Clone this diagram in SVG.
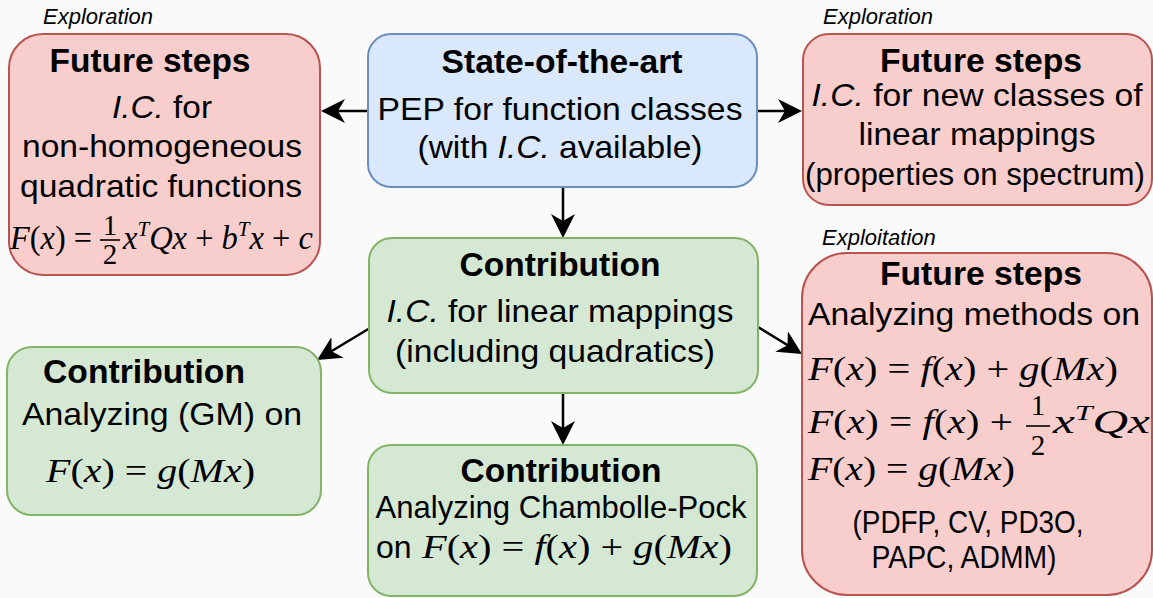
<svg xmlns="http://www.w3.org/2000/svg" width="1153" height="598" viewBox="0 0 1153 598">
  <defs>
    <style>
      .red { fill: #f8cecc; stroke: #b85450; stroke-width: 2; }
      .blue { fill: #dae8fc; stroke: #6c8ebf; stroke-width: 2; }
      .green { fill: #d5e8d4; stroke: #82b366; stroke-width: 2; }
      .t { font-family: "Liberation Sans", Arial, sans-serif; font-size: 32px; fill: #000; text-anchor: middle; }
      .b { font-weight: bold; font-size: 34px; }
      .i { font-style: italic; }
      .lbl { font-family: "Liberation Sans", Arial, sans-serif; font-size: 22px; font-style: italic; fill: #000; }
      .m { font-family: "Liberation Serif", "Times New Roman", serif; font-size: 34px; font-style: italic; fill: #000; }
      .u { font-style: normal; }
      .sup { font-size: 22px; }
      .fr { font-family: "Liberation Serif", "Times New Roman", serif; font-size: 29px; fill: #000; text-anchor: middle; }
      .bar { stroke: #000; stroke-width: 1.6; }
      .edge { fill: none; stroke: #000; stroke-width: 2.5; }
    </style>
    <marker id="arrow" markerUnits="userSpaceOnUse" markerWidth="26" markerHeight="26" refX="14" refY="12" orient="auto" viewBox="0 0 26 26">
      <path d="M0,0 L24,12 L0,24 L7,12 Z" fill="#000"/>
    </marker>
  </defs>

  <rect width="1153" height="598" fill="#fafafa"/>

  <!-- connectors -->
  <g id="connectors">
    <line class="edge" x1="368" y1="111" x2="331" y2="111" marker-end="url(#arrow)"/>
    <line class="edge" x1="757" y1="111" x2="792" y2="111" marker-end="url(#arrow)"/>
    <line class="edge" x1="563" y1="187" x2="563" y2="228" marker-end="url(#arrow)"/>
    <line class="edge" x1="370" y1="328" x2="325.6" y2="354.8" marker-end="url(#arrow)"/>
    <line class="edge" x1="758" y1="327" x2="793.5" y2="348.8" marker-end="url(#arrow)"/>
    <line class="edge" x1="563" y1="393" x2="563" y2="435" marker-end="url(#arrow)"/>
  </g>

  <!-- state of the art -->
  <g id="state-of-the-art">
    <rect class="blue" x="368" y="34" width="389" height="153" rx="23"/>
    <text class="t b" x="562" y="73" textLength="241" lengthAdjust="spacingAndGlyphs">State-of-the-art</text>
    <text class="t" x="560" y="120" textLength="365" lengthAdjust="spacingAndGlyphs">PEP for function classes</text>
    <text class="t" x="560" y="158" textLength="285" lengthAdjust="spacingAndGlyphs">(with <tspan class="i">I.C.</tspan> available)</text>
  </g>

  <!-- future steps: non-homogeneous quadratics -->
  <g id="future-quadratic">
    <text class="lbl" x="43" y="24">Exploration</text>
    <rect class="red" x="9" y="34" width="311" height="241" rx="34"/>
    <text class="t b" x="150" y="72" textLength="201" lengthAdjust="spacingAndGlyphs">Future steps</text>
    <text class="t" x="162" y="118" textLength="100" lengthAdjust="spacingAndGlyphs"><tspan class="i">I.C.</tspan> for</text>
    <text class="t" x="162" y="157" textLength="280" lengthAdjust="spacingAndGlyphs">non-homogeneous</text>
    <text class="t" x="161" y="197" textLength="282" lengthAdjust="spacingAndGlyphs">quadratic functions</text>
    <text class="m" x="10" y="249" textLength="82" lengthAdjust="spacingAndGlyphs">F<tspan class="u">(</tspan>x<tspan class="u">) =</tspan></text>
    <text class="fr" x="110" y="235">1</text>
    <line class="bar" x1="100" y1="240" x2="120" y2="240"/>
    <text class="fr" x="110" y="264">2</text>
    <text class="m" x="123" y="249" textLength="190" lengthAdjust="spacingAndGlyphs">x<tspan class="sup" dy="-13">T</tspan><tspan dy="13">Qx</tspan><tspan class="u"> + </tspan>b<tspan class="sup" dy="-13">T</tspan><tspan dy="13">x</tspan><tspan class="u"> + </tspan>c</text>
  </g>

  <!-- future steps: new classes of linear mappings -->
  <g id="future-linear">
    <text class="lbl" x="823" y="24">Exploration</text>
    <rect class="red" x="803" y="34" width="349" height="171" rx="26"/>
    <text class="t b" x="981" y="72" textLength="202" lengthAdjust="spacingAndGlyphs">Future steps</text>
    <text class="t" x="977" y="106" textLength="331" lengthAdjust="spacingAndGlyphs"><tspan class="i">I.C.</tspan> for new classes of</text>
    <text class="t" x="977" y="145" textLength="237" lengthAdjust="spacingAndGlyphs">linear mappings</text>
    <text class="t" x="975" y="185" textLength="340" lengthAdjust="spacingAndGlyphs">(properties on spectrum)</text>
  </g>

  <!-- contribution: linear mappings -->
  <g id="contribution-linear">
    <rect class="green" x="369" y="238" width="389" height="155" rx="23"/>
    <text class="t b" x="560" y="276" textLength="201" lengthAdjust="spacingAndGlyphs">Contribution</text>
    <text class="t" x="560" y="322" textLength="347" lengthAdjust="spacingAndGlyphs"><tspan class="i">I.C.</tspan> for linear mappings</text>
    <text class="t" x="555" y="362" textLength="320" lengthAdjust="spacingAndGlyphs">(including quadratics)</text>
  </g>

  <!-- contribution: gradient method -->
  <g id="contribution-gm">
    <rect class="green" x="7" y="347" width="314" height="168" rx="25"/>
    <text class="t b" x="144" y="383" textLength="202" lengthAdjust="spacingAndGlyphs">Contribution</text>
    <text class="t" x="162" y="425" textLength="280" lengthAdjust="spacingAndGlyphs">Analyzing (GM) on</text>
    <text class="m" x="46" y="482" textLength="209" lengthAdjust="spacingAndGlyphs">F<tspan class="u">(</tspan>x<tspan class="u">) = </tspan>g<tspan class="u">(</tspan>Mx<tspan class="u">)</tspan></text>
  </g>

  <!-- contribution: Chambolle-Pock -->
  <g id="contribution-cp">
    <rect class="green" x="368" y="445" width="389" height="151" rx="23"/>
    <text class="t b" x="561" y="482" textLength="201" lengthAdjust="spacingAndGlyphs">Contribution</text>
    <text class="t" x="561" y="518" textLength="371" lengthAdjust="spacingAndGlyphs">Analyzing Chambolle-Pock</text>
    <text class="t" x="376" y="558" style="text-anchor:start">on</text>
    <text class="m" x="422" y="558" textLength="310" lengthAdjust="spacingAndGlyphs">F<tspan class="u">(</tspan>x<tspan class="u">) = </tspan>f<tspan class="u">(</tspan>x<tspan class="u">) + </tspan>g<tspan class="u">(</tspan>Mx<tspan class="u">)</tspan></text>
  </g>

  <!-- future steps: exploitation -->
  <g id="future-methods">
    <text class="lbl" x="822" y="245">Exploitation</text>
    <rect class="red" x="802" y="253" width="350" height="342" rx="45"/>
    <text class="t b" x="981" y="285" textLength="202" lengthAdjust="spacingAndGlyphs">Future steps</text>
    <text class="t" x="974" y="325" textLength="332" lengthAdjust="spacingAndGlyphs">Analyzing methods on</text>
    <text class="m" x="808" y="380" textLength="310" lengthAdjust="spacingAndGlyphs">F<tspan class="u">(</tspan>x<tspan class="u">) = </tspan>f<tspan class="u">(</tspan>x<tspan class="u">) + </tspan>g<tspan class="u">(</tspan>Mx<tspan class="u">)</tspan></text>
    <text class="m" x="808" y="433" textLength="205" lengthAdjust="spacingAndGlyphs">F<tspan class="u">(</tspan>x<tspan class="u">) = </tspan>f<tspan class="u">(</tspan>x<tspan class="u">) +</tspan></text>
    <text class="fr" x="1038" y="415">1</text>
    <line class="bar" x1="1026" y1="426" x2="1050" y2="426"/>
    <text class="fr" x="1038" y="455">2</text>
    <text class="m" x="1053" y="433" textLength="97" lengthAdjust="spacingAndGlyphs">x<tspan class="sup" dy="-13">T</tspan><tspan dy="13">Qx</tspan></text>
    <text class="m" x="808" y="480" textLength="207" lengthAdjust="spacingAndGlyphs">F<tspan class="u">(</tspan>x<tspan class="u">) = </tspan>g<tspan class="u">(</tspan>Mx<tspan class="u">)</tspan></text>
    <text class="t" x="968" y="533" textLength="231" lengthAdjust="spacingAndGlyphs">(PDFP, CV, PD3O,</text>
    <text class="t" x="964" y="568" textLength="185" lengthAdjust="spacingAndGlyphs">PAPC, ADMM)</text>
  </g>
</svg>
